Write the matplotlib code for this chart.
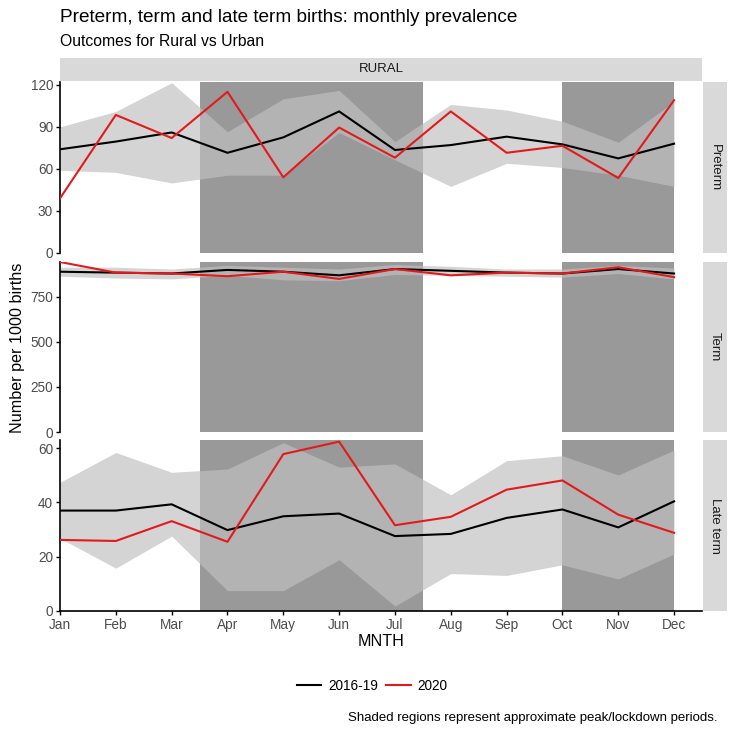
import matplotlib
matplotlib.use("Agg")
import matplotlib.pyplot as plt
from matplotlib.lines import Line2D

plt.rcParams['font.family'] = ['Liberation Sans', 'DejaVu Sans']

#-------------------------------------------------------------------
#                           DATA
#-------------------------------------------------------------------
months = ['Jan', 'Feb', 'Mar', 'Apr', 'May', 'Jun', 'Jul', 'Aug', 'Sep', 'Oct', 'Nov', 'Dec']
month_num = list(range(1, 13))

# Preterm
pre_base = [74, 79.5, 86, 71.5, 82.5, 101, 73.5, 77, 83, 77.5, 67.5, 78]
pre_2020 = [39, 98.5, 82, 115, 54, 89.5, 68, 101, 71.5, 76.5, 53.5, 109]
pre_hi = [90, 101, 121.5, 86.5, 110, 116, 79.5, 106, 102, 94, 79, 108]
pre_lo = [59, 57.5, 50, 55.5, 55.5, 86, 66.5, 47.5, 64, 61, 55.5, 47.5]

# Term
term_base = [890, 885, 880, 900, 890, 870, 905, 895, 885, 880, 905, 880]
term_2020 = [944, 885, 880, 865, 890, 850, 905, 870, 885, 880, 915, 860]
term_hi = [915, 915, 905, 925, 915, 905, 930, 920, 905, 905, 925, 910]
term_lo = [865, 855, 850, 870, 845, 840, 875, 870, 865, 860, 880, 850]

# Late term
late_base = [37, 37, 39.3, 29.8, 34.9, 35.9, 27.6, 28.4, 34.3, 37.4, 30.8, 40.4]
late_2020 = [26.2, 25.8, 33.1, 25.5, 57.8, 62.4, 31.6, 34.7, 44.7, 48.1, 35.5, 28.8]
late_hi = [47.4, 58.4, 51.1, 52.3, 62, 53, 54.2, 42.8, 55.4, 57.2, 50.1, 59.3]
late_lo = [26.8, 15.8, 27.6, 7.5, 7.5, 18.9, 1.8, 13.8, 13.1, 17, 11.8, 21]

# lockdown periods (month positions)
periods = [(3.5, 7.5), (10, 12)]

panels = [
    ('Preterm', pre_base, pre_2020, pre_hi, pre_lo, 122, [0, 30, 60, 90, 120]),
    ('Term', term_base, term_2020, term_hi, term_lo, 944, [0, 250, 500, 750]),
    ('Late term', late_base, late_2020, late_hi, late_lo, 63, [0, 20, 40, 60]),
]

#-------------------------------------------------------------------
#                           FIGURE
#-------------------------------------------------------------------
W, H = 735, 731
fig = plt.figure(figsize=(W / 100, H / 100), dpi=100)

def box(x0, y0, x1, y1):
    # pixel box (top-left origin) -> figure fraction rect
    return [x0 / W, 1 - y1 / H, (x1 - x0) / W, (y1 - y0) / H]

tops = [(82, 253), (262, 432), (440, 611)]
px_left, px_right = 60, 702

for i, (name, base, y20, hi, lo, ymax, yt) in enumerate(panels):
    t, b = tops[i]
    ax = fig.add_axes(box(px_left, t, px_right, b))
    for x0, x1 in periods:
        ax.axvspan(x0, x1, color='#999999', lw=0, zorder=1)
    ax.fill_between(month_num, lo, hi, color='#c0c0c0', alpha=0.68, lw=0, zorder=2)
    ax.plot(month_num, base, color='black', lw=1.5, zorder=3)
    ax.plot(month_num, y20, color='#e31a1c', lw=1.5, zorder=4)
    ax.set_xlim(1, 12.5)
    ax.set_ylim(0, ymax)
    ax.set_yticks(yt)
    ax.tick_params(axis='y', length=3, width=1, color='black', labelsize=9.8,
                   labelcolor='#4d4d4d', pad=2)
    for s in ['top', 'right']:
        ax.spines[s].set_visible(False)
    ax.spines['left'].set_linewidth(1.2)
    if i < 2:
        ax.spines['bottom'].set_visible(False)
        ax.set_xticks([])
    else:
        ax.spines['bottom'].set_linewidth(1.2)
        ax.set_xticks(month_num)
        ax.set_xticklabels(months)
        ax.tick_params(axis='x', length=3, width=1, color='black', labelsize=9.8,
                       labelcolor='#4d4d4d', pad=2)
    # right strip
    sax = fig.add_axes(box(703, t, 727, b))
    sax.set_facecolor('#d9d9d9')
    sax.set_xticks([])
    sax.set_yticks([])
    for s in sax.spines.values():
        s.set_visible(False)
    sax.text(0.5, 0.5, name, rotation=-90, ha='center', va='center',
             fontsize=9.5, color='#1a1a1a', transform=sax.transAxes)

# top strip
tax = fig.add_axes(box(px_left, 58, px_right, 81))
tax.set_facecolor('#d9d9d9')
tax.set_xticks([])
tax.set_yticks([])
for s in tax.spines.values():
    s.set_visible(False)
tax.text(0.5, 0.5, 'RURAL', ha='center', va='center', fontsize=9.5,
         color='#1a1a1a', transform=tax.transAxes)

# titles and labels
fig.text(60 / W, 1 - 18 / H, 'Preterm, term and late term births: monthly prevalence',
         fontsize=13.7, ha='left', va='center')
fig.text(60 / W, 1 - 42 / H, 'Outcomes for Rural vs Urban', fontsize=11.3,
         ha='left', va='center')
fig.text(18 / W, 1 - 348 / H, 'Number per 1000 births', rotation=90, fontsize=11.6,
         ha='center', va='center')
fig.text(381 / W, 1 - 641 / H, 'MNTH', fontsize=11.6, ha='center', va='center')

handles = [Line2D([], [], color='black', lw=1.5),
           Line2D([], [], color='#e31a1c', lw=1.5)]
fig.legend(handles, ['2016-19', '2020'], loc='center', ncol=2, frameon=False,
           bbox_to_anchor=(372 / W, 1 - 686 / H), fontsize=9.8, handlelength=1.8,
           columnspacing=0.6, handletextpad=0.5)

fig.text(718 / W, 1 - 718 / H,
         'Shaded regions represent approximate peak/lockdown periods.',
         fontsize=9.5, ha='right', va='center')

fig.savefig('out.png', dpi=100)
